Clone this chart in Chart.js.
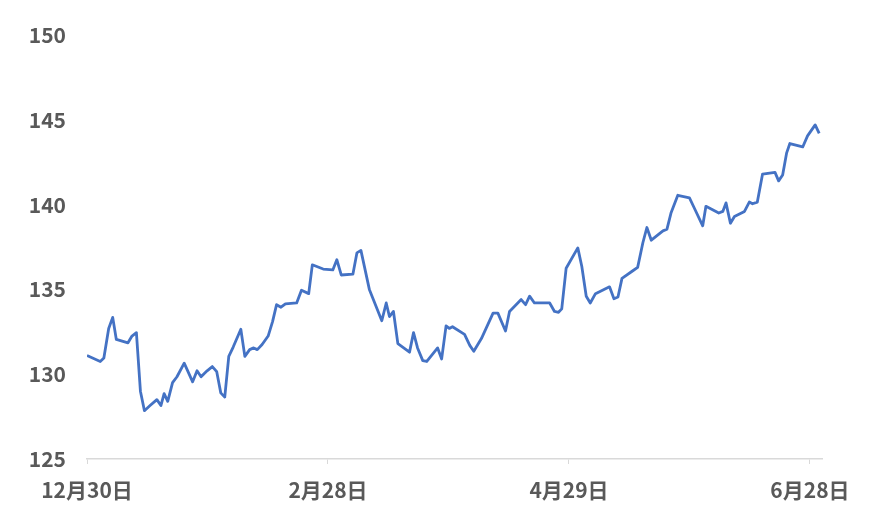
<!DOCTYPE html>
<html>
<head>
<meta charset="utf-8">
<script src="https://cdn.jsdelivr.net/npm/chart.js@4"></script>
<style>
  html, body { margin: 0; padding: 0; background: #fff; }
  #wrap { width: 870px; height: 512px; }
</style>
</head>
<body>
<div id="wrap"><canvas id="chart"></canvas></div>
<script>
// days since 12月30日
const days = [
  0.0, 3.3, 4.2, 5.4, 6.4, 7.3, 10.2, 11.2, 12.3, 13.3,
  14.3, 15.7, 17.4, 18.4, 19.2, 20.1, 21.3, 22.4, 24.2, 26.3,
  27.4, 28.4, 29.9, 31.2, 32.3, 33.3, 34.3, 35.3, 36.4, 38.3,
  39.3, 40.5, 41.5, 42.4, 43.6, 45.1, 46.2, 47.2, 48.3, 49.4,
  52.2, 53.4, 55.2, 56.1, 58.8, 61.2, 62.2, 63.3, 66.2, 67.2,
  68.2, 70.3, 73.4, 74.5, 75.3, 76.3, 77.4, 80.3, 81.3, 82.3,
  83.6, 84.6, 87.3, 88.3, 89.4, 90.2, 91.0, 94.0, 95.3, 96.3,
  98.2, 101.1, 102.3, 104.2, 105.2, 108.1, 109.2, 110.2, 111.4, 115.2,
  116.4, 117.4, 118.2, 119.3, 122.2, 123.2, 124.3, 125.3, 126.6, 130.1,
  131.2, 132.2, 133.2, 135.9, 137.1, 138.4, 139.4, 140.5, 143.4, 144.4,
  145.4, 147.1, 150.0, 151.2, 153.3, 154.1, 157.3, 158.3, 159.1, 160.2,
  161.2, 163.7, 164.9, 165.7, 166.9, 168.2, 171.3, 172.2, 173.2, 174.2,
  175.0, 178.2, 179.4, 181.3, 182.3
]
const prices = [
  131.1, 130.75, 130.95, 132.7, 133.35, 132.05, 131.85, 132.25, 132.45, 129.0,
  127.85, 128.15, 128.5, 128.15, 128.85, 128.4, 129.5, 129.85, 130.65, 129.55,
  130.2, 129.85, 130.2, 130.45, 130.15, 128.9, 128.65, 131.05, 131.6, 132.65,
  131.05, 131.45, 131.55, 131.45, 131.75, 132.25, 133.1, 134.1, 133.95, 134.15,
  134.2, 134.95, 134.75, 136.45, 136.2, 136.15, 136.75, 135.85, 135.9, 137.15,
  137.3, 135.0, 133.15, 134.2, 133.4, 133.7, 131.8, 131.3, 132.45, 131.55,
  130.8, 130.75, 131.55, 130.9, 132.85, 132.7, 132.8, 132.35, 131.7, 131.35,
  132.1, 133.6, 133.6, 132.55, 133.7, 134.4, 134.1, 134.6, 134.2, 134.2,
  133.7, 133.65, 133.85, 136.25, 137.45, 136.35, 134.6, 134.2, 134.75, 135.15,
  134.45, 134.55, 135.65, 136.1, 136.3, 137.75, 138.65, 137.9, 138.45, 138.55,
  139.5, 140.55, 140.4, 139.8, 138.75, 139.9, 139.5, 139.6, 140.1, 138.9,
  139.3, 139.6, 140.15, 140.05, 140.15, 141.8, 141.9, 141.4, 141.75, 143.05,
  143.6, 143.4, 144.05, 144.7, 144.2
]
const tickDays = [0, 60, 120, 180]
const tickLabels = ['12月30日', '2月28日', '4月29日', '6月28日']

const font = { family: "'Noto Sans CJK JP', 'Noto Sans', sans-serif", size: 21, weight: 'bold' }

new Chart(document.querySelector('#chart'), {
    type: 'line',
    data: {
        datasets: [{
            data: days.map((d, i) => ({ x: d, y: prices[i] })),
            borderColor: '#4472c4',
            borderWidth: 2.8,
            borderJoinStyle: 'round',
            pointRadius: 0,
            tension: 0
        }]
    },
    options: {
        responsive: true,
        maintainAspectRatio: false,
        animation: false,
        layout: { padding: { top: 35, right: 48, bottom: 0, left: 0 } },
        plugins: { legend: { display: false }, tooltip: { enabled: false } },
        scales: {
            x: {
                type: 'linear',
                min: 0,
                max: 183,
                afterBuildTicks: s => { s.ticks = tickDays.map(v => ({ value: v })) },
                afterFit: s => { s.height = 53 },
                ticks: {
                    autoSkip: false,
                    maxRotation: 0,
                    padding: 13,
                    color: '#595959',
                    font: font,
                    callback: (v, i) => tickLabels[i]
                },
                grid: { drawOnChartArea: false, color: '#d9d9d9', tickLength: 5 },
                border: { color: '#d9d9d9', width: 1.5 }
            },
            y: {
                min: 125,
                max: 150,
                afterFit: s => { s.width = 87 },
                ticks: { stepSize: 5, padding: 21, color: '#595959', font: font },
                grid: { display: false, drawTicks: false },
                border: { display: false }
            }
        }
    }
})
</script>
</body>
</html>
